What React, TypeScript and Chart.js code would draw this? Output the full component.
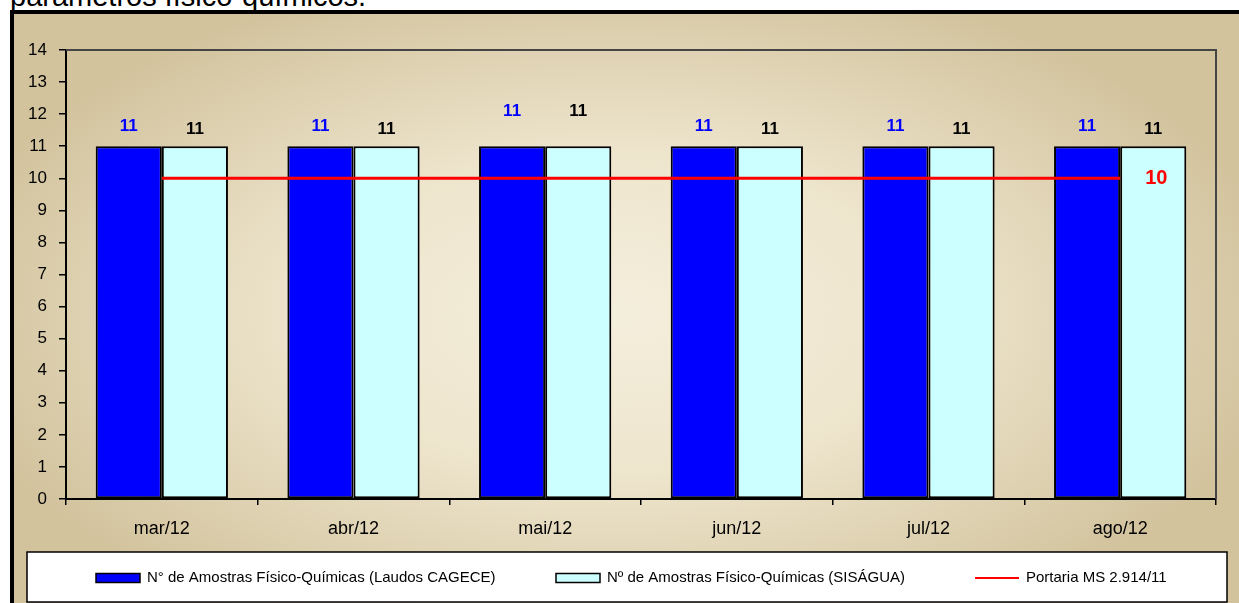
import React, { useEffect, useRef } from "react";
import { Chart, registerables } from "chart.js";

Chart.register(...registerables);

const categories = ["mar/12", "abr/12", "mai/12", "jun/12", "jul/12", "ago/12"];
const cageceValues = [11, 11, 11, 11, 11, 11];
const sisaguaValues = [11, 11, 11, 11, 11, 11];
const portariaValues = [10, 10, 10, 10, 10, 10];
const seriesLabels = [
  "N° de Amostras Físico-Químicas (Laudos CAGECE)",
  "Nº de Amostras Físico-Químicas (SISÁGUA)",
  "Portaria MS 2.914/11",
];
const yMin = 0;
const yMax = 14;
const yStep = 1;

const FONT = '"Liberation Sans", Arial, Helvetica, sans-serif';
const CW = 1225;
const CH = 589;

const bgPlugin = {
  id: "bgGradient",
  beforeDraw(chart: any) {
    const { ctx, width, height } = chart;
    ctx.save();
    const cx = 600;
    const cy = 300;
    const sy = 0.52;
    ctx.translate(cx, cy);
    ctx.scale(1, sy);
    const g = ctx.createRadialGradient(0, 0, 0, 0, 0, 680);
    g.addColorStop(0, "#f4eedc");
    g.addColorStop(0.45, "#eee5cd");
    g.addColorStop(1, "#d2c39d");
    ctx.fillStyle = g;
    ctx.fillRect(-cx, -cy / sy, width, height / sy);
    ctx.restore();
  },
};

const plotBorderPlugin = {
  id: "plotBorder",
  beforeDatasetsDraw(chart: any) {
    const { ctx, chartArea } = chart;
    ctx.save();
    ctx.strokeStyle = "#454545";
    ctx.lineWidth = 2;
    ctx.beginPath();
    ctx.moveTo(chartArea.left, chartArea.top);
    ctx.lineTo(chartArea.right, chartArea.top);
    ctx.lineTo(chartArea.right, chartArea.bottom);
    ctx.stroke();
    ctx.restore();
  },
};

const labelOffsets: Record<number, number[]> = {
  0: [20, 20, 35, 20, 20, 20],
  1: [17, 17, 35, 17, 17, 17],
};
const labelColors: Record<number, string> = { 0: "#0000ff", 1: "#000000" };

const valueLabelPlugin = {
  id: "valueLabels",
  afterDatasetsDraw(chart: any) {
    const { ctx } = chart;
    ctx.save();
    ctx.textBaseline = "middle";
    chart.data.datasets.forEach((ds: any, di: number) => {
      const meta = chart.getDatasetMeta(di);
      if (ds.type === "line") {
        const last = meta.data[meta.data.length - 1];
        ctx.font = `bold 20px ${FONT}`;
        ctx.fillStyle = "#ff0000";
        ctx.textAlign = "left";
        ctx.fillText(String(ds.data[ds.data.length - 1]), last.x + 25, last.y);
        return;
      }
      ctx.textAlign = "center";
      ctx.font = `bold 17px ${FONT}`;
      ctx.fillStyle = labelColors[di];
      meta.data.forEach((el: any, i: number) => {
        ctx.fillText(String(ds.data[i]), el.x, el.y - labelOffsets[di][i]);
      });
    });
    ctx.restore();
  },
};

const legendPlugin = {
  id: "customLegend",
  afterDraw(chart: any) {
    const { ctx } = chart;
    ctx.save();
    ctx.fillStyle = "#ffffff";
    ctx.fillRect(13, 538, 1200, 50);
    ctx.strokeStyle = "#000000";
    ctx.lineWidth = 1.5;
    ctx.strokeRect(13, 538, 1200, 50);
    const starts = [82, 542, 961];
    const cy = 564;
    ctx.font = `15px ${FONT}`;
    ctx.textBaseline = "middle";
    ctx.textAlign = "left";
    chart.data.datasets.forEach((ds: any, i: number) => {
      const x = starts[i];
      if (ds.type === "line") {
        ctx.strokeStyle = ds.borderColor;
        ctx.lineWidth = 2;
        ctx.beginPath();
        ctx.moveTo(x, cy);
        ctx.lineTo(x + 44, cy);
        ctx.stroke();
      } else {
        ctx.fillStyle = ds.backgroundColor;
        ctx.fillRect(x, cy - 4.5, 44, 9);
        ctx.strokeStyle = "#000";
        ctx.lineWidth = 1.5;
        ctx.strokeRect(x, cy - 4.5, 44, 9);
      }
      ctx.fillStyle = "#000";
      ctx.fillText(ds.label, x + 51, cy);
    });
    ctx.restore();
  },
};

export default function App() {
  const ref = useRef<HTMLCanvasElement | null>(null);

  useEffect(() => {
    if (!ref.current) return;
    const chart = new Chart(ref.current, {
      type: "bar",
      data: {
        labels: categories,
        datasets: [
          {
            type: "bar",
            label: seriesLabels[0],
            data: cageceValues,
            backgroundColor: "#0000ff",
            borderColor: "#000000",
            borderWidth: 2,
            borderSkipped: false,
            order: 1,
          },
          {
            type: "bar",
            label: seriesLabels[1],
            data: sisaguaValues,
            backgroundColor: "#ccffff",
            borderColor: "#000000",
            borderWidth: 2,
            borderSkipped: false,
            order: 1,
          },
          {
            type: "line",
            label: seriesLabels[2],
            data: portariaValues,
            borderColor: "#ff0000",
            backgroundColor: "#ff0000",
            borderWidth: 3,
            pointRadius: 0,
            order: 0,
          } as any,
        ],
      },
      options: {
        responsive: false,
        animation: false,
        devicePixelRatio: 1,
        layout: { padding: { top: 36, right: 23, bottom: 0, left: 0 } },
        datasets: {
          bar: { categoryPercentage: 0.69, barPercentage: 1 },
        },
        plugins: {
          legend: { display: false },
          tooltip: { enabled: false },
          title: { display: false },
        },
        scales: {
          x: {
            offset: true,
            afterFit: (s: any) => {
              s.height = 104;
            },
            grid: {
              offset: true,
              drawOnChartArea: false,
              drawTicks: true,
              tickLength: 6,
              color: "#000",
              lineWidth: 1.5,
            },
            border: { display: true, color: "#000", width: 2 },
            ticks: {
              color: "#000",
              font: { family: FONT, size: 18 },
              padding: 13,
              maxRotation: 0,
            },
          },
          y: {
            min: yMin,
            max: yMax,
            afterFit: (s: any) => {
              s.width = 52;
            },
            grid: {
              drawOnChartArea: false,
              drawTicks: true,
              tickLength: 7,
              color: "#000",
              lineWidth: 1.5,
            },
            border: { display: true, color: "#000", width: 2 },
            ticks: {
              stepSize: yStep,
              color: "#000",
              font: { family: FONT, size: 17 },
              padding: 12,
            },
          },
        },
      },
      plugins: [bgPlugin, plotBorderPlugin, valueLabelPlugin, legendPlugin],
    });
    return () => chart.destroy();
  }, []);

  return (
    <div
      style={{
        position: "fixed",
        left: 0,
        top: 0,
        width: 1239,
        height: 603,
        overflow: "hidden",
        background: "#ffffff",
      }}
    >
      <div
        style={{
          position: "absolute",
          left: 10,
          top: -18,
          fontFamily: FONT,
          fontSize: 29,
          lineHeight: "29px",
          color: "#000",
          whiteSpace: "nowrap",
        }}
      >
        parâmetros físico-químicos.
      </div>
      <div
        style={{
          position: "absolute",
          left: 10,
          top: 10,
          width: 1239,
          height: 603,
          borderLeft: "4px solid #000",
          borderTop: "4px solid #000",
        }}
      />
      <canvas
        ref={ref}
        width={CW}
        height={CH}
        style={{ position: "absolute", left: 14, top: 14, width: CW, height: CH }}
      />
    </div>
  );
}
